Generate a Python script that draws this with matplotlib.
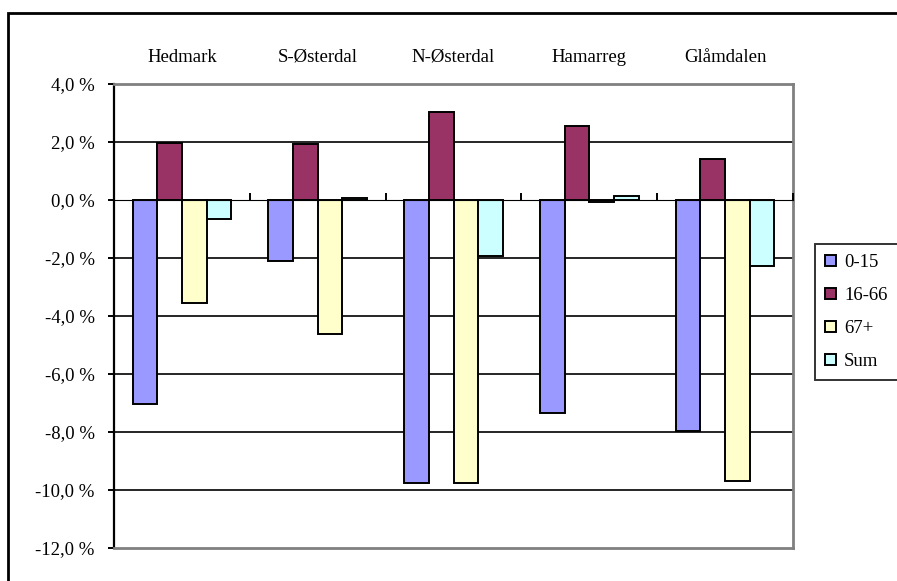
import matplotlib
matplotlib.use('Agg')
from matplotlib import pyplot as plt
from matplotlib.patches import Patch, Rectangle
from matplotlib.ticker import FuncFormatter

plt.rcParams['font.family'] = ['Liberation Serif', 'DejaVu Serif']

# data (percent change)
regioner = ['Hedmark', 'S-Østerdal', 'N-Østerdal', 'Hamarreg', 'Glåmdalen']
grupper = ['0-15', '16-66', '67+', 'Sum']
v_0_15 = [-7.04, -2.09, -9.76, -7.33, -7.97]
v_16_66 = [1.98, 1.92, 3.03, 2.54, 1.42]
v_67 = [-3.54, -4.62, -9.76, -0.07, -9.68]
v_sum = [-0.64, 0.07, -1.93, 0.13, -2.29]
farger = ['#9999FF', '#993366', '#FFFFCC', '#CCFFFF']

W, H = 897, 581
fig = plt.figure(figsize=(W / 100, H / 100), dpi=100)
ax = fig.add_axes([114 / W, 1 - 548 / H, (793 - 114) / W, (548 - 84) / H])

FS = 13.5
bredde = 1 / 5.5
start = 0.75 / 5.5
serier = [v_0_15, v_16_66, v_67, v_sum]
for j, verdier in enumerate(serier):
  x = [k + start + (j + 0.5) * bredde for k in range(len(regioner))]
  ax.bar(x, verdier, width=bredde, color=farger[j], edgecolor='black', linewidth=1.4, zorder=3)

ax.set_xlim(0, len(regioner))
ax.set_ylim(-12, 4)

# grid lines
for g in [2, -2, -4, -6, -8, -10]:
  ax.axhline(g, color='black', linewidth=1.2, zorder=1)

# y axis
ax.set_yticks(range(-12, 5, 2))
ax.yaxis.set_major_formatter(FuncFormatter(lambda v, p: f'{v:.1f} %'.replace('.', ',')))
ax.tick_params(axis='y', direction='out', length=4, width=1.4, pad=10, labelsize=FS, color='black')

# category labels on top
ax.set_xticks([k + 0.5 for k in range(len(regioner))])
ax.set_xticklabels(regioner)
ax.xaxis.tick_top()
ax.tick_params(axis='x', length=0, pad=13, labelsize=FS)

for s in ['top', 'right', 'bottom']:
  ax.spines[s].set_color('#808080')
  ax.spines[s].set_linewidth(2)
ax.spines['left'].set_color('black')
ax.spines['left'].set_linewidth(1.6)

# zero axis with category tick marks
null = ax.secondary_xaxis(0.75)
null.set_xticks(range(1, len(regioner) + 1))
null.set_xticklabels([])
null.tick_params(direction='out', length=5, width=1.4, color='black')
null.spines['bottom'].set_linewidth(2)
null.spines['bottom'].set_color('black')
null.set_zorder(4)

# legend
handles = [Patch(facecolor=farger[j], edgecolor='black', linewidth=1.4, label=grupper[j]) for j in range(len(grupper))]
leg = fig.legend(handles=handles, loc='upper left', bbox_to_anchor=(815 / W, 1 - 244 / H),
                 fontsize=FS, frameon=True, fancybox=False, edgecolor='black',
                 handlelength=0.55, handleheight=0.55, handletextpad=0.45,
                 labelspacing=0.85, borderpad=0.55, borderaxespad=0)
leg.get_frame().set_linewidth(1.4)

# outer chart frame
fig.patches.append(Rectangle((8 / W, -0.1), 1.2, 1 - 13 / H + 0.1, transform=fig.transFigure,
                             fill=False, edgecolor='black', linewidth=2, clip_on=False))

fig.savefig('out.png', dpi=100)
